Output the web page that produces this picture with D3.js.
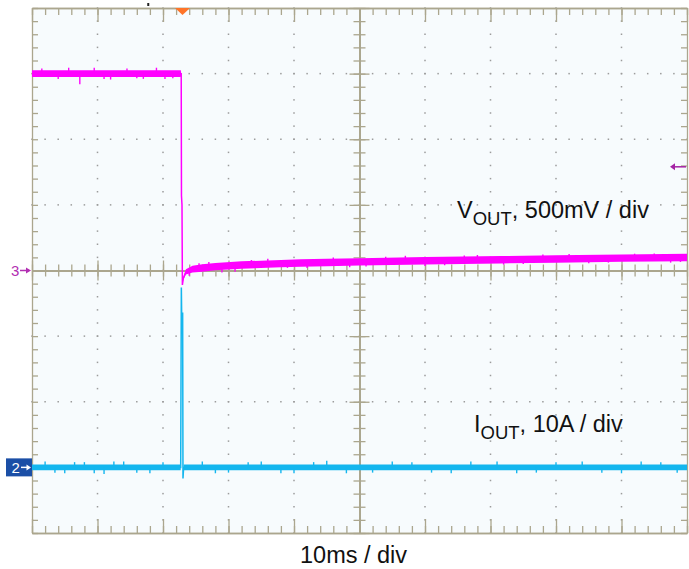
<!DOCTYPE html>
<html><head><meta charset="utf-8">
<script src="https://cdn.jsdelivr.net/npm/d3@7"></script>
<style>
html,body{margin:0;padding:0;background:#fff;}
svg{display:block;font-family:"Liberation Sans",Arial,sans-serif;}
</style>
</head><body>
<svg id="c" width="689" height="569"></svg>
<script>
// ---------------- DATA ----------------
// time axis: 10 ms / div, 10 divisions
const timeDivisions = [0,10,20,30,40,50,60,70,80,90,100];          // ms
const timeMinor = d3.range(0, 100.001, 2);                          // 1/5 div
// channel 3 (VOUT) 500 mV/div, marker at 0 V, 8 divisions
const voltDivisions = [-2,-1.5,-1,-0.5,0,0.5,1,1.5,2];              // V
const voltMinor = d3.range(-2, 2.0001, 0.1);
// channel 2 (IOUT) 10 A/div, marker at 0 A
const ampDomain = [-10, 70];

// VOUT trace (time ms, volts, noise half-band volts)
const voutTime  = [0, 22.72, 22.78, 22.82, 22.9, 22.96, 23.1, 23.5, 24.5, 26, 28, 32, 38, 41, 45, 50, 60, 71.5, 80, 90, 100];
const voutValue = [1.5, 1.5, 1.5, 0.57, 0.5, -0.11, -0.06, -0.01, 0.01, 0.019, 0.03, 0.042, 0.052, 0.057, 0.061, 0.066, 0.074, 0.082, 0.088, 0.094, 0.099];
const voutNoise = [0.025, 0.025, 0, 0, 0, 0, 0.008, 0.02, 0.026, 0.028, 0.028, 0.028, 0.028, 0.028, 0.028, 0.028, 0.028, 0.028, 0.028, 0.028, 0.028];
const voutGlitchTime  = [1.5, 4.0, 5.6, 7.3, 9.5, 11.0, 12.0, 14.5, 16.0, 17.0, 19.0, 20.3, 21.5, 24, 25.5, 27, 29, 31, 33.5, 36, 39, 42, 46, 48.5, 51, 54, 57, 60, 63, 66, 68, 72, 75, 78, 82, 85, 88, 92, 95, 97.5, 99];
const voutGlitchValue = [1.54, 1.46, 1.545, 1.42, 1.545, 1.46, 1.455, 1.54, 1.465, 1.46, 1.545, 1.46, 1.465, -0.04, 0.055, 0.065, -0.015, -0.01, 0.08, 0.09, 0.02, 0.02, 0.1, 0.025, 0.03, 0.105, 0.112, 0.035, 0.04, 0.115, 0.118, 0.045, 0.05, 0.122, 0.125, 0.055, 0.06, 0.128, 0.13, 0.06, 0.065];

// IOUT trace (time ms, amps, noise half-band amps)
const ioutTime  = [0, 22.7, 22.8, 22.85, 23.0, 23.05, 23.15, 100];
const ioutValue = [0, 0, 27.4, 23.5, 23.5, -1.7, 0, 0];
const ioutNoise = [0.42, 0.42, 0, 0, 0, 0, 0.42, 0.42];
const ioutGlitchTime  = [2, 3.5, 5, 6.5, 8, 9.5, 11, 12.5, 14, 16, 18, 20, 26, 28, 30, 33, 35, 38, 40, 43, 45, 48, 52, 55, 58, 61, 64, 67, 71, 74, 77, 80, 84, 87, 90, 93, 96, 98.5];
const ioutGlitchValue = [0.9, -0.8, -0.9, 0.8, 0.8, -0.9, -1.0, 0.9, 0.9, -0.8, -0.9, 0.8, 0.9, -0.9, -0.8, 0.8, 0.9, -0.9, -0.9, 0.8, 1.0, -0.9, -0.8, 0.9, 0.8, -0.8, -0.9, 0.9, 0.9, -0.9, -0.8, 0.8, 0.9, -0.8, -0.9, 0.9, 0.8, -0.8];

const triggerTime = 22.98;    // ms
const triggerLevel = 0.79;    // V (ch3)
const cursorDotTime = 17.75;  // ms

const voutLabel = ["V", "OUT", ", 500mV / div"];
const ioutLabel = ["I", "OUT", ", 10A / div"];
const timeLabel = "10ms / div";

// ---------------- DRAW ----------------
const svg = d3.select("#c");
const L = 32, R = 687, T = 8, B = 533;
const x  = d3.scaleLinear().domain([0, 100]).range([L, R]);
const yV = d3.scaleLinear().domain([-2, 2]).range([B, T]);
const yI = d3.scaleLinear().domain(ampDomain).range([B, T]);

const gridColor = "#aba68e";
const magenta = "#ff00ff";
const cyan = "#14b6ee";

svg.append("rect").attr("x", L).attr("y", T).attr("width", R - L).attr("height", B - T)
  .attr("fill", "#f7fbfd");

// dotted grid
const dots = svg.append("g").attr("fill", "#9c9c9c");
timeDivisions.filter(t => t !== 0 && t !== 50 && t !== 100).forEach(t => {
  voltMinor.forEach(v => {
    dots.append("rect").attr("x", x(t) - 0.75).attr("y", yV(v) - 0.75).attr("width", 1.5).attr("height", 1.5);
  });
});
voltDivisions.filter(v => v !== -2 && v !== 0 && v !== 2).forEach(v => {
  timeMinor.forEach(t => {
    dots.append("rect").attr("x", x(t) - 0.75).attr("y", yV(v) - 0.75).attr("width", 1.5).attr("height", 1.5);
  });
});

function styleAxis(g) {
  g.selectAll("line,path").attr("stroke", gridColor).attr("stroke-width", 1.3);
  g.selectAll("text").remove();
}
function addAxis(axis, tx, ty) {
  svg.append("g").attr("transform", `translate(${tx},${ty})`).call(axis).call(styleAxis);
}
// borders
addAxis(d3.axisBottom(x).tickValues(timeMinor).tickSize(7).tickSizeOuter(0).tickFormat(""), 0, T);
addAxis(d3.axisBottom(x).tickValues(timeDivisions).tickSize(14).tickSizeOuter(0).tickFormat(""), 0, T);
addAxis(d3.axisTop(x).tickValues(timeMinor).tickSize(7).tickSizeOuter(0).tickFormat(""), 0, B);
addAxis(d3.axisTop(x).tickValues(timeDivisions).tickSize(14).tickSizeOuter(0).tickFormat(""), 0, B);
addAxis(d3.axisRight(yV).tickValues(voltMinor).tickSize(6).tickSizeOuter(0).tickFormat(""), L, 0);
addAxis(d3.axisLeft(yV).tickValues(voltMinor).tickSize(6).tickSizeOuter(0).tickFormat(""), R, 0);
// center cross
addAxis(d3.axisBottom(x).tickValues(timeMinor).tickSize(6).tickSizeOuter(0).tickFormat(""), 0, yV(0));
addAxis(d3.axisTop(x).tickValues(timeMinor).tickSize(6).tickSizeOuter(0).tickFormat(""), 0, yV(0));
addAxis(d3.axisBottom(x).tickValues(timeDivisions).tickSize(10).tickSizeOuter(0).tickFormat(""), 0, yV(0));
addAxis(d3.axisTop(x).tickValues(timeDivisions).tickSize(10).tickSizeOuter(0).tickFormat(""), 0, yV(0));
addAxis(d3.axisLeft(yV).tickValues(voltMinor).tickSize(6).tickSizeOuter(0).tickFormat(""), x(50), 0);
addAxis(d3.axisRight(yV).tickValues(voltMinor).tickSize(6).tickSizeOuter(0).tickFormat(""), x(50), 0);
addAxis(d3.axisLeft(yV).tickValues(voltDivisions).tickSize(10).tickSizeOuter(0).tickFormat(""), x(50), 0);
addAxis(d3.axisRight(yV).tickValues(voltDivisions).tickSize(10).tickSizeOuter(0).tickFormat(""), x(50), 0);

// helper: trace value at time
function valueAt(times, vals, t) {
  const i = d3.bisectRight(times, t);
  if (i <= 0) return vals[0];
  if (i >= times.length) return vals[vals.length - 1];
  const a = (t - times[i - 1]) / (times[i] - times[i - 1]);
  return vals[i - 1] + a * (vals[i] - vals[i - 1]);
}

function drawTrace(times, vals, noise, gT, gV, yS, color) {
  const idx = d3.range(times.length);
  const g = svg.append("g");
  g.append("path").datum(idx)
    .attr("d", d3.area().x(i => x(times[i])).y0(i => yS(vals[i] - noise[i])).y1(i => yS(vals[i] + noise[i])))
    .attr("fill", color);
  g.append("path").datum(idx)
    .attr("d", d3.line().x(i => x(times[i])).y(i => yS(vals[i])))
    .attr("fill", "none").attr("stroke", color).attr("stroke-width", 1.5);
  gT.forEach((t, k) => {
    g.append("line")
      .attr("x1", x(t)).attr("x2", x(t))
      .attr("y1", yS(valueAt(times, vals, t))).attr("y2", yS(gV[k]))
      .attr("stroke", color).attr("stroke-width", 1.4);
  });
}
drawTrace(ioutTime, ioutValue, ioutNoise, ioutGlitchTime, ioutGlitchValue, yI, cyan);
drawTrace(voutTime, voutValue, voutNoise, voutGlitchTime, voutGlitchValue, yV, magenta);

// channel 3 marker
const m3y = yV(0);
svg.append("text").attr("x", 11).attr("y", m3y + 5.5).attr("font-size", 15).attr("fill", "#b22fb2").text("3");
svg.append("line").attr("x1", 20).attr("x2", 29).attr("y1", m3y).attr("y2", m3y).attr("stroke", "#b22fb2").attr("stroke-width", 1.5);
svg.append("path").attr("d", `M${31},${m3y} l-5,-3 l0,6 z`).attr("fill", "#b22fb2");

// channel 2 marker
const m2y = yI(0);
svg.append("rect").attr("x", 6).attr("y", m2y - 9).attr("width", 26).attr("height", 18).attr("fill", "#1b4fa6");
svg.append("text").attr("x", 11.5).attr("y", m2y + 5.5).attr("font-size", 15).attr("fill", "#fff").text("2");
svg.append("line").attr("x1", 21).attr("x2", 28).attr("y1", m2y).attr("y2", m2y).attr("stroke", "#fff").attr("stroke-width", 1.5);
svg.append("path").attr("d", `M${31},${m2y} l-4.5,-3 l0,6 z`).attr("fill", "#fff");

// trigger level arrow (right)
const ty = yV(triggerLevel);
svg.append("line").attr("x1", 674).attr("x2", 686).attr("y1", ty).attr("y2", ty).attr("stroke", "#a424a4").attr("stroke-width", 1.5);
svg.append("path").attr("d", `M${670},${ty} l5,-3.5 l0,7 z`).attr("fill", "#a424a4");

// trigger position marker (top)
const tx = x(triggerTime);
svg.append("path").attr("d", `M${tx - 7.5},${T} L${tx + 7.5},${T} L${tx},${T + 7} Z`).attr("fill", "#ff7428");
svg.append("rect").attr("x", x(cursorDotTime) - 1).attr("y", 3).attr("width", 2).attr("height", 3).attr("fill", "#222");

// labels
function subLabel(parts, lx, ly) {
  const t = svg.append("text").attr("x", lx).attr("y", ly).attr("font-size", 23.5).attr("fill", "#111");
  t.append("tspan").text(parts[0]);
  t.append("tspan").attr("font-size", 18.5).attr("dy", 7).text(parts[1]);
  t.append("tspan").attr("dy", -7).text(parts[2]);
}
subLabel(voutLabel, 457, 218);
subLabel(ioutLabel, 474, 432);
svg.append("text").attr("x", 300).attr("y", 563).attr("font-size", 23.5).attr("fill", "#111").text(timeLabel);
</script>
</body></html>
